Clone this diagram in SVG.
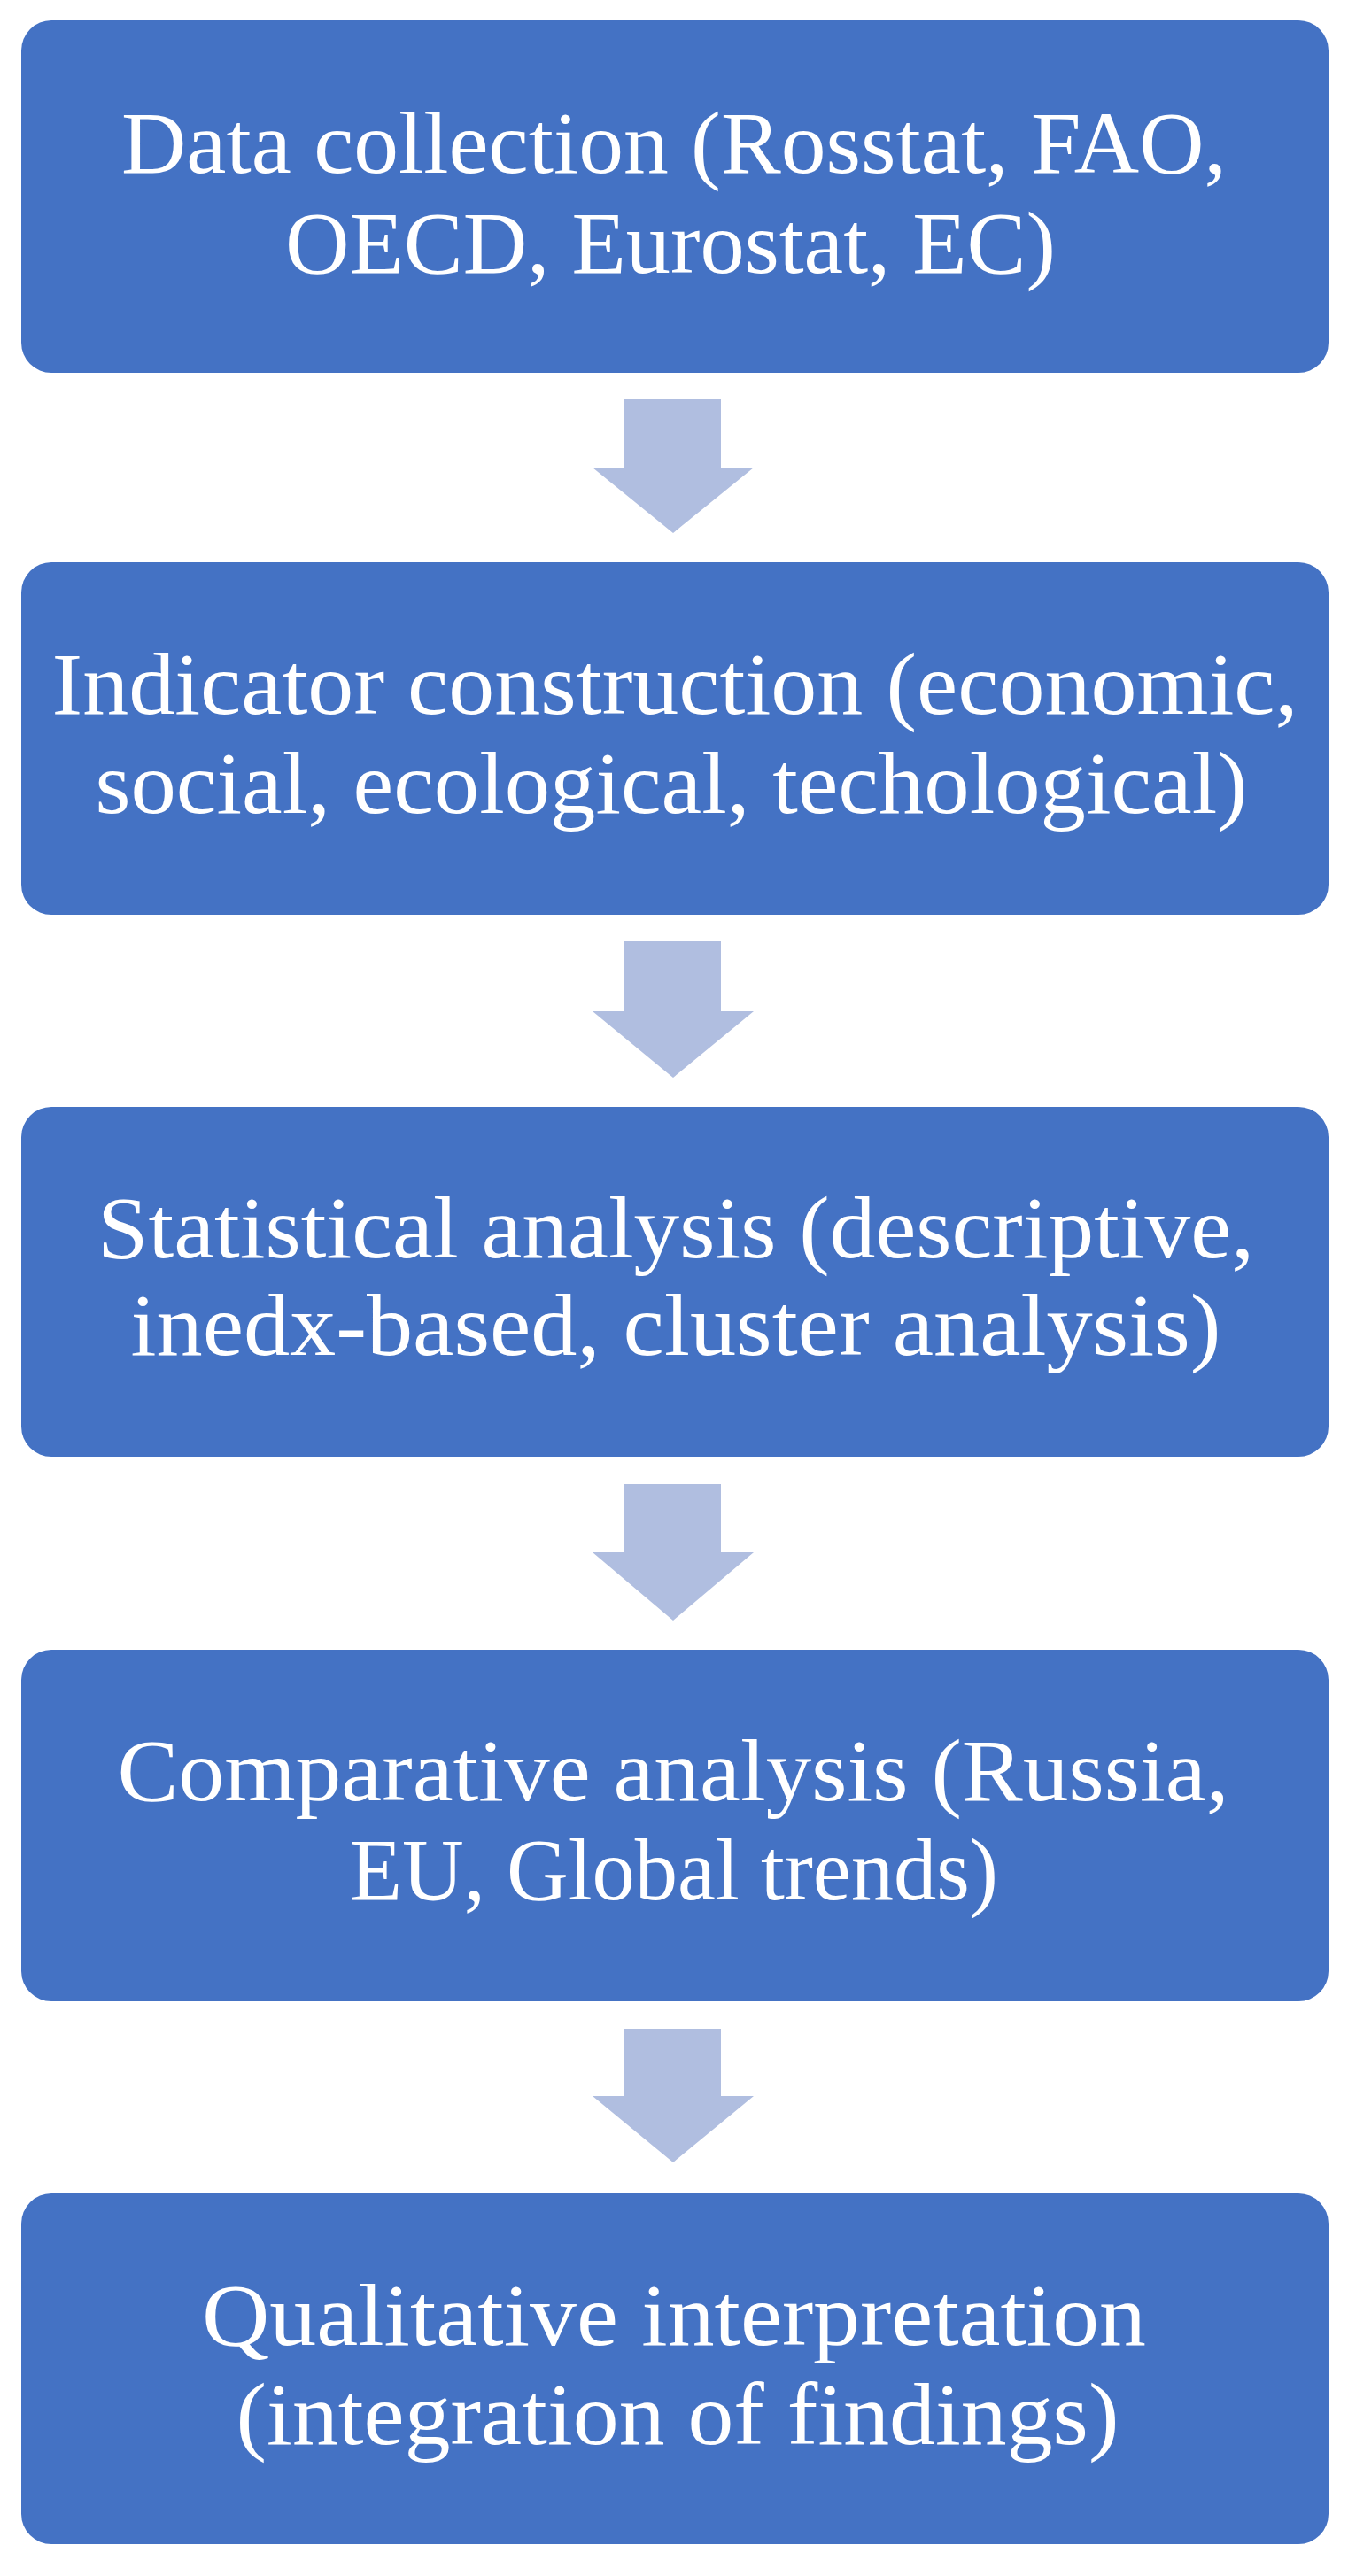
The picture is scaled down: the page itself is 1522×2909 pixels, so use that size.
<svg xmlns="http://www.w3.org/2000/svg" width="1522" height="2909" viewBox="0 0 1522 2909">
<style>
.box{fill:#4472C4;}
.arr{fill:#B0BEE0;}
.t{font-family:"Liberation Serif","DejaVu Serif",serif;font-size:100px;fill:#FFFFFF;text-anchor:middle;}
</style>
<rect width="1522" height="2909" fill="#FFFFFF"/>
<g id="connectors">
<path class="arr" d="M705 451 H814 V528 H851 L760 602 L669 528 H705 Z"/>
<path class="arr" d="M705 1063 H814 V1142 H851 L760 1217 L669 1142 H705 Z"/>
<path class="arr" d="M705 1676 H814 V1753 H851 L760 1830 L669 1753 H705 Z"/>
<path class="arr" d="M705 2291 H814 V2367 H851 L760 2442 L669 2367 H705 Z"/>
</g>
<g id="node1">
<rect class="box" x="24" y="23" width="1476" height="398" rx="34"/>
<text class="t" x="761" y="195" textLength="1248" lengthAdjust="spacingAndGlyphs">Data collection (Rosstat, FAO,</text>
<text class="t" x="757" y="308" textLength="870" lengthAdjust="spacingAndGlyphs">OECD, Eurostat, EC)</text>
</g>
<g id="node2">
<rect class="box" x="24" y="635" width="1476" height="398" rx="34"/>
<text class="t" x="762" y="806" textLength="1407" lengthAdjust="spacingAndGlyphs">Indicator construction (economic,</text>
<text class="t" x="758" y="918" textLength="1301" lengthAdjust="spacingAndGlyphs">social, ecological, techological)</text>
</g>
<g id="node3">
<rect class="box" x="24" y="1250" width="1476" height="395" rx="34"/>
<text class="t" x="763" y="1420" textLength="1306" lengthAdjust="spacingAndGlyphs">Statistical analysis (descriptive,</text>
<text class="t" x="763" y="1530" textLength="1231" lengthAdjust="spacingAndGlyphs">inedx-based, cluster analysis)</text>
</g>
<g id="node4">
<rect class="box" x="24" y="1863" width="1476" height="397" rx="34"/>
<text class="t" x="760" y="2033" textLength="1255" lengthAdjust="spacingAndGlyphs">Comparative analysis (Russia,</text>
<text class="t" x="761" y="2145" textLength="732" lengthAdjust="spacingAndGlyphs">EU, Global trends)</text>
</g>
<g id="node5">
<rect class="box" x="24" y="2477" width="1476" height="396" rx="34"/>
<text class="t" x="761" y="2648" textLength="1066" lengthAdjust="spacingAndGlyphs">Qualitative interpretation</text>
<text class="t" x="765" y="2760" textLength="997" lengthAdjust="spacingAndGlyphs">(integration of findings)</text>
</g>
</svg>
